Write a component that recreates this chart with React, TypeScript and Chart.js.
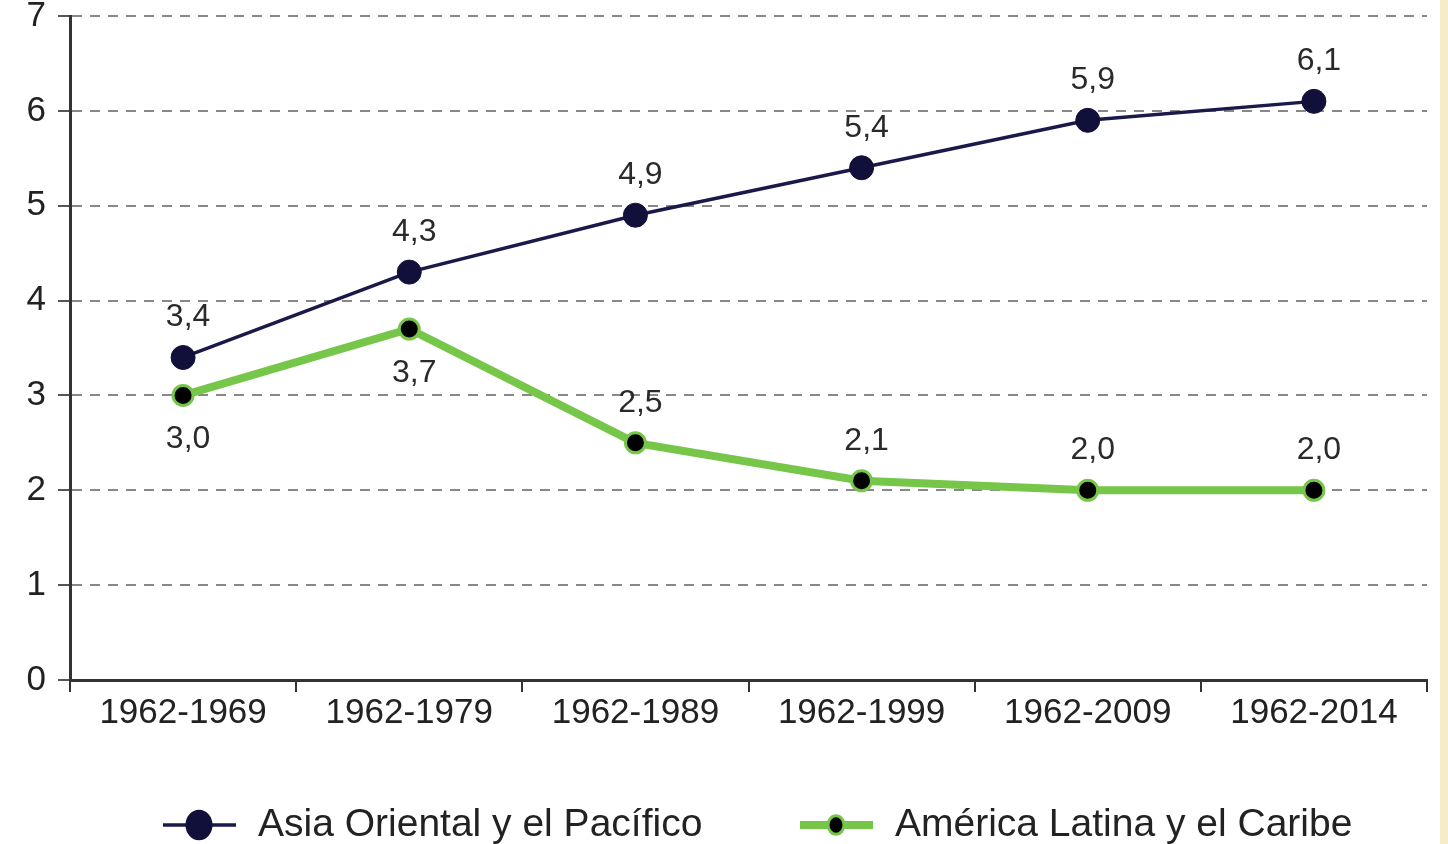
import React, { useEffect, useRef } from "react";
import { Chart, registerables } from "chart.js";

Chart.register(...registerables);

const categories = ["1962-1969", "1962-1979", "1962-1989", "1962-1999", "1962-2009", "1962-2014"];
const asiaValues = [3.4, 4.3, 4.9, 5.4, 5.9, 6.1];
const latamValues = [3.0, 3.7, 2.5, 2.1, 2.0, 2.0];
const asiaLabelSide = ["above", "above", "above", "above", "above", "above"];
const latamLabelSide = ["below", "below", "above", "above", "above", "above"];
const seriesNames = ["Asia Oriental y el Pacífico", "América Latina y el Caribe"];
const yTicks = [0, 1, 2, 3, 4, 5, 6, 7];

const NAVY = "#1a1a4a";
const NAVY_DOT = "#10103a";
const GREEN = "#76c64a";
const FONT = "'Liberation Sans', Arial, sans-serif";

const fmt = (v: number) => v.toFixed(1).replace(".", ",");

const labelsPlugin = {
  id: "valueLabels",
  afterDatasetsDraw(chart: any) {
    const ctx = chart.ctx;
    ctx.save();
    ctx.font = `32px ${FONT}`;
    ctx.fillStyle = "#2a2a2a";
    ctx.textAlign = "center";
    ctx.textBaseline = "middle";
    const sides = [asiaLabelSide, latamLabelSide];
    chart.data.datasets.forEach((ds: any, di: number) => {
      const meta = chart.getDatasetMeta(di);
      meta.data.forEach((pt: any, i: number) => {
        const side = sides[di][i];
        const dy = side === "above" ? -40 : 44;
        ctx.fillText(fmt(ds.data[i]), pt.x + 5, pt.y + dy);
      });
    });
    ctx.restore();
  },
};

const legendPlugin = {
  id: "customLegend",
  afterDraw(chart: any) {
    const ctx = chart.ctx;
    ctx.save();
    const y = 825;
    const items = [
      { x: 163, color: NAVY, width: 3.5, dot: NAVY_DOT, r: 12, border: NAVY_DOT },
      { x: 800, color: GREEN, width: 8, dot: "#000000", r: 8, border: GREEN },
    ];
    items.forEach((it, i) => {
      ctx.strokeStyle = it.color;
      ctx.lineWidth = it.width;
      ctx.beginPath();
      ctx.moveTo(it.x, y);
      ctx.lineTo(it.x + 73, y);
      ctx.stroke();
      ctx.beginPath();
      ctx.ellipse(it.x + 36, y, it.r, it.r * 1.15, 0, 0, Math.PI * 2);
      ctx.fillStyle = it.dot;
      ctx.fill();
      ctx.lineWidth = 3;
      ctx.strokeStyle = it.border;
      ctx.stroke();
      ctx.font = `39px ${FONT}`;
      ctx.fillStyle = "#222222";
      ctx.textAlign = "left";
      ctx.textBaseline = "middle";
      ctx.fillText(seriesNames[i], it.x + 95, y);
    });
    ctx.restore();
  },
};

export default function App() {
  const ref = useRef<HTMLCanvasElement | null>(null);

  useEffect(() => {
    document.body.style.margin = "0";
    if (!ref.current) return;
    const chart = new Chart(ref.current, {
      type: "line",
      data: {
        labels: categories,
        datasets: [
          {
            label: seriesNames[0],
            data: asiaValues,
            borderColor: NAVY,
            borderWidth: 3.5,
            backgroundColor: NAVY_DOT,
            pointBackgroundColor: NAVY_DOT,
            pointBorderColor: NAVY_DOT,
            pointBorderWidth: 1,
            pointRadius: 12,
            tension: 0,
          },
          {
            label: seriesNames[1],
            data: latamValues,
            borderColor: GREEN,
            borderWidth: 8,
            backgroundColor: "#000000",
            pointBackgroundColor: "#000000",
            pointBorderColor: GREEN,
            pointBorderWidth: 3,
            pointRadius: 10,
            tension: 0,
          },
        ],
      },
      options: {
        animation: false,
        responsive: true,
        maintainAspectRatio: false,
        layout: { padding: { top: 0, right: 13, left: 0, bottom: 0 } },
        plugins: {
          legend: { display: false },
          tooltip: { enabled: false },
        },
        scales: {
          x: {
            type: "category",
            offset: true,
            grid: {
              display: true,
              offset: true,
              drawOnChartArea: false,
              drawTicks: true,
              tickLength: 12,
              color: "#333333",
              lineWidth: 2,
            },
            border: { display: true, color: "#333333", width: 3 },
            ticks: {
              color: "#222222",
              font: { family: FONT, size: 35 },
              padding: 0,
              maxRotation: 0,
              autoSkip: false,
            },
            afterFit(scale: any) {
              scale.height = 164;
            },
          },
          y: {
            min: 0,
            max: 7,
            afterBuildTicks(scale: any) {
              scale.ticks = yTicks.map((v) => ({ value: v }));
            },
            grid: {
              display: true,
              color: "#888888",
              lineWidth: 2,
              tickLength: 12,
              tickColor: "#555555",
            },
            border: { display: true, color: "#333333", width: 3, dash: [10, 8] } as any,
            ticks: {
              color: "#222222",
              font: { family: FONT, size: 35 },
              padding: 12,
            },
            afterFit(scale: any) {
              scale.width = 70;
              scale.paddingTop = 16;
              scale.paddingBottom = 0;
            },
          },
        },
      },
      plugins: [labelsPlugin, legendPlugin],
    });
    return () => chart.destroy();
  }, []);

  return (
    <div style={{ position: "fixed", left: 0, top: 0, width: 1448, height: 844, background: "#ffffff" }}>
      <div style={{ position: "absolute", left: 0, top: 0, width: 1440, height: 844 }}>
        <canvas ref={ref} />
      </div>
      <div style={{ position: "absolute", left: 1440, top: 0, width: 8, height: 844, background: "#f6ecca" }} />
    </div>
  );
}
